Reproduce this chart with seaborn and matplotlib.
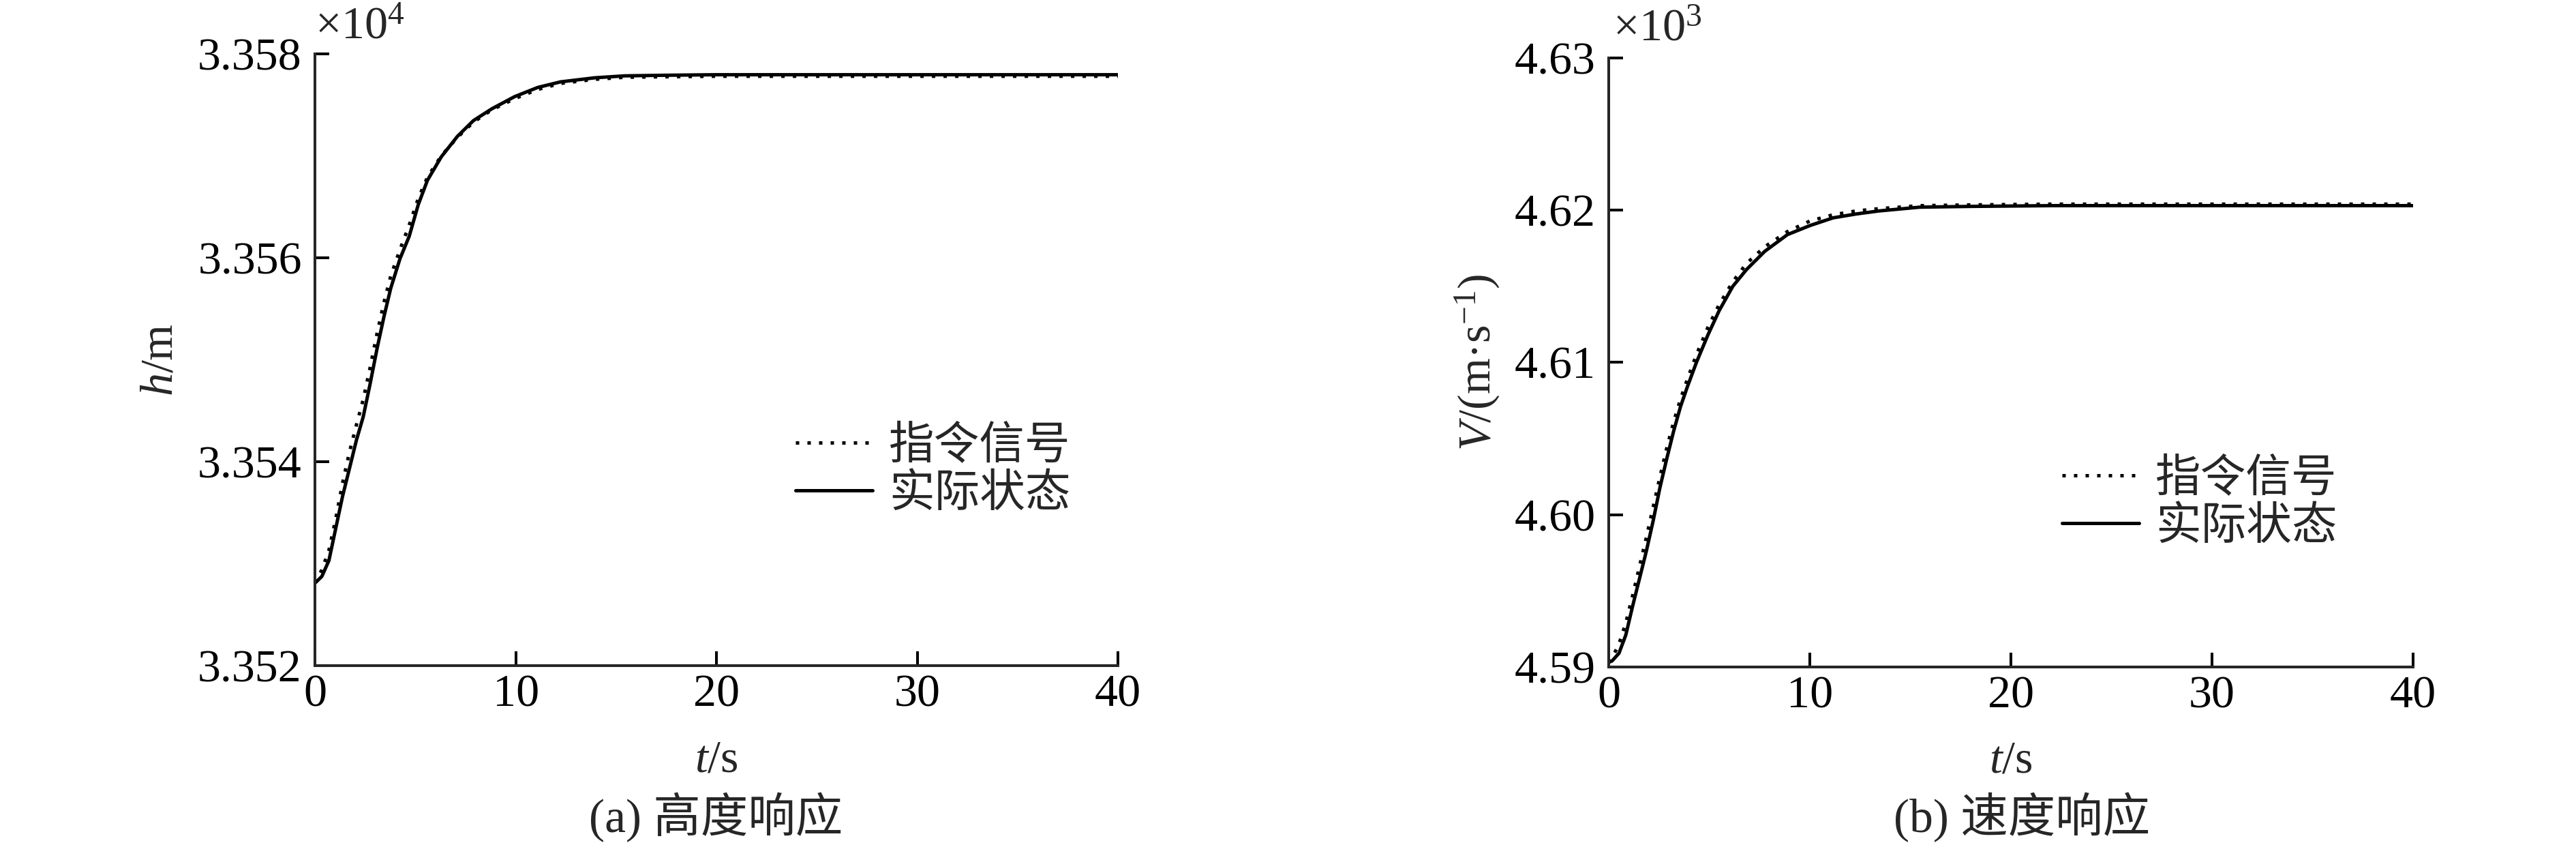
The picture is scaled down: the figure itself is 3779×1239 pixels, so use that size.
import matplotlib
matplotlib.use("Agg")
import matplotlib.pyplot as plt
from matplotlib.ticker import FuncFormatter
import pandas as pd
import seaborn as sns

# time axis (s) and responses
t_h = [0.0, 0.34, 0.69, 1.03, 1.37, 1.71, 2.06, 2.40, 2.74, 3.09, 3.43, 3.77, 4.23,
       4.69, 5.14, 5.60, 6.29, 7.09, 7.89, 8.80, 9.94, 11.09, 12.23, 13.94, 15.43,
       17.5, 20.0, 25.0, 30.0, 35.0, 40.0]
h_cmd = [33528.1, 33529.4, 33531.3, 33534.4, 33537.9, 33540.9, 33543.6, 33546.1,
         33549.2, 33552.6, 33555.6, 33558.2, 33560.8, 33563.2, 33565.8, 33567.9,
         33570.0, 33571.8, 33573.3, 33574.5, 33575.6, 33576.5, 33577.1, 33577.5,
         33577.7, 33577.75, 33577.8, 33577.8, 33577.8, 33577.8, 33577.8]
h_real = [33528.1, 33528.75, 33530.3, 33533.45, 33536.6, 33539.3, 33542.1, 33544.4,
          33547.6, 33551.1, 33554.2, 33557.0, 33559.9, 33562.1, 33565.2, 33567.6,
          33569.9, 33571.9, 33573.45, 33574.6, 33575.8, 33576.7, 33577.25, 33577.65,
          33577.84, 33577.9, 33577.95, 33577.95, 33577.95, 33577.95, 33577.95]

t_v = [0.0, 0.17, 0.51, 0.85, 1.19, 1.53, 1.87, 2.21, 2.55, 2.89, 3.23, 3.57, 3.91,
       4.36, 4.93, 5.49, 6.17, 6.85, 7.76, 8.89, 10.02, 11.16, 12.29, 13.42, 15.46,
       18.0, 22.0, 26.0, 30.0, 35.0, 40.0]
v_cmd = [4590.3, 4590.6, 4591.5, 4592.9, 4594.7, 4596.6, 4598.5, 4600.5, 4602.5,
         4604.4, 4606.1, 4607.6, 4608.9, 4610.5, 4612.3, 4613.8, 4615.3, 4616.5,
         4617.6, 4618.6, 4619.3, 4619.7, 4619.95, 4620.1, 4620.3, 4620.35, 4620.4,
         4620.4, 4620.4, 4620.4, 4620.4]
v_real = [4590.3, 4590.4, 4590.9, 4592.1, 4594.0, 4595.8, 4597.6, 4599.6, 4601.8,
          4603.7, 4605.5, 4607.1, 4608.4, 4610.0, 4611.8, 4613.4, 4615.0, 4616.1,
          4617.3, 4618.4, 4619.0, 4619.5, 4619.75, 4619.95, 4620.2, 4620.25, 4620.3,
          4620.3, 4620.3, 4620.3, 4620.3]

x_ticks = [0, 10, 20, 30, 40]
h_ticks = [33520, 33540, 33560, 33580]
v_ticks = [4590, 4600, 4610, 4620, 4630]
legend_labels = ["指令信号", "实际状态"]

sns.set_style("ticks")
plt.rcParams["font.family"] = ["Liberation Serif", "Noto Sans CJK SC"]
plt.rcParams["mathtext.fontset"] = "custom"
plt.rcParams["mathtext.rm"] = "Liberation Serif"
plt.rcParams["mathtext.it"] = "Liberation Serif:italic"

FS = 49
LW = 3.6
DOT = (0, (1, 2.4))

fig = plt.figure(figsize=(37.79, 12.39), dpi=100)
ax1 = fig.add_axes([0.1223, 0.2123, 0.3117, 0.7240])
ax2 = fig.add_axes([0.6245, 0.2107, 0.3123, 0.7207])


def draw(ax, t, cmd, real):
    df_real = pd.DataFrame({"t": t, "v": real})
    df_cmd = pd.DataFrame({"t": t, "v": cmd})
    sns.lineplot(data=df_real, x="t", y="v", ax=ax, color="black", lw=LW,
                 estimator=None, label=legend_labels[1])
    sns.lineplot(data=df_cmd, x="t", y="v", ax=ax, color="black", lw=LW,
                 estimator=None, linestyle=DOT, label=legend_labels[0])


draw(ax1, t_h, h_cmd, h_real)
draw(ax2, t_v, v_cmd, v_real)

for ax in (ax1, ax2):
    sns.despine(ax=ax)
    for s in ("left", "bottom"):
        ax.spines[s].set_linewidth(2.9)
    ax.set_xlim(0, 40)
    ax.set_xticks(x_ticks)
    ax.tick_params(direction="in", length=15, width=2.9, labelsize=FS, colors="black")
    ax.tick_params(axis="x", pad=9)
    ax.tick_params(axis="y", pad=14)
    ax.set_xlabel("$t$/s", fontsize=FS)
    ax.xaxis.label.set_verticalalignment("center")
    ax.xaxis.set_label_coords(0.5, -0.155)
    handles, labels = ax.get_legend_handles_labels()
    ax.legend(handles[::-1], labels[::-1], frameon=False, fontsize=48,
              handlelength=1.7, handletextpad=0.36, labelspacing=0.12,
              borderpad=0, borderaxespad=0, loc="center left")

ax1.set_ylim(33520, 33580)
ax1.set_yticks(h_ticks)
ax1.yaxis.set_major_formatter(FuncFormatter(lambda v, _: f"{v / 1e4:.3f}"))
ax1.set_ylabel("$h$/m", fontsize=FS)
ax1.yaxis.label.set_verticalalignment("center")
ax1.yaxis.set_label_coords(-0.192, 0.5)
ax1.get_legend().set_bbox_to_anchor((0.598, 0.318), transform=ax1.transAxes)
ax1.annotate("×10$^{4}$", xy=(0, 1), xycoords="axes fraction", xytext=(0, 16),
             textcoords="offset points", ha="left", va="baseline", fontsize=FS)

ax2.set_ylim(4590, 4630)
ax2.set_yticks(v_ticks)
ax2.yaxis.set_major_formatter(FuncFormatter(lambda v, _: f"{v / 1e3:.2f}"))
ax2.set_ylabel("$V$/(m·s$^{-1}$)", fontsize=FS)
ax2.yaxis.label.set_verticalalignment("center")
ax2.yaxis.set_label_coords(-0.163, 0.5)
ax2.get_legend().set_bbox_to_anchor((0.5636, 0.268), transform=ax2.transAxes)
ax2.annotate("×10$^{3}$", xy=(0, 1), xycoords="axes fraction", xytext=(4, 18),
             textcoords="offset points", ha="left", va="baseline", fontsize=FS)

fig.text(0.278, 0.033, "(a) 高度响应", ha="center", va="center", fontsize=50)
fig.text(0.785, 0.033, "(b) 速度响应", ha="center", va="center", fontsize=50)

fig.savefig("out.png", dpi=100)
